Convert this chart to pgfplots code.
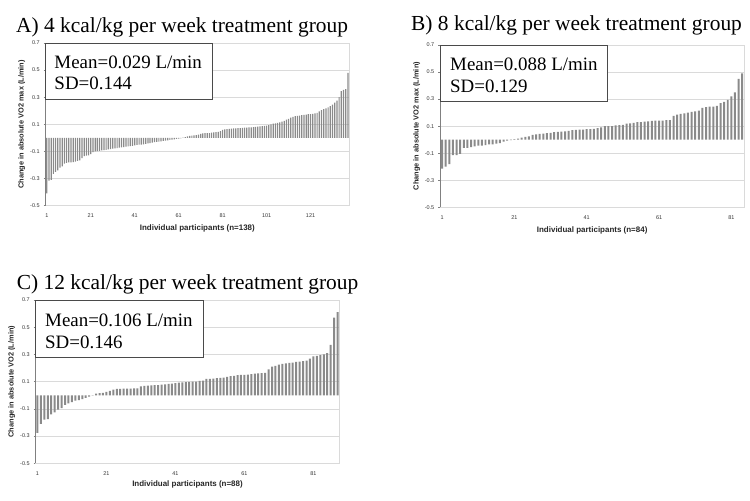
\documentclass[border=0pt]{standalone}
\usepackage{pgfplots}
\pgfplotsset{compat=1.18}
\usepackage{pgfplotstable}
\usepackage{fontspec}
\setmainfont{Liberation Serif}
\newfontfamily\arial{Liberation Sans}
\definecolor{bargray}{HTML}{8A8A8A}
\definecolor{gridgray}{HTML}{DADADA}
\definecolor{boxgray}{HTML}{4A4A4A}

\pgfplotstableread{
x y
1 -0.41
2 -0.315
3 -0.31
4 -0.265
5 -0.25
6 -0.24
7 -0.22
8 -0.21
9 -0.19
10 -0.185
11 -0.18
12 -0.18
13 -0.178
14 -0.175
15 -0.17
16 -0.165
17 -0.15
18 -0.135
19 -0.13
20 -0.128
21 -0.12
22 -0.105
23 -0.1
24 -0.098
25 -0.095
26 -0.092
27 -0.09
28 -0.088
29 -0.085
30 -0.082
31 -0.08
32 -0.078
33 -0.075
34 -0.072
35 -0.07
36 -0.068
37 -0.065
38 -0.062
39 -0.06
40 -0.058
41 -0.055
42 -0.052
43 -0.05
44 -0.05
45 -0.048
46 -0.045
47 -0.04
48 -0.038
49 -0.035
50 -0.032
51 -0.03
52 -0.028
53 -0.025
54 -0.022
55 -0.02
56 -0.018
57 -0.015
58 -0.012
59 -0.01
60 -0.008
61 -0.005
62 -0.003
63 0.002
64 0.005
65 0.012
66 0.015
67 0.017
68 0.018
69 0.02
70 0.025
71 0.03
72 0.033
73 0.035
74 0.035
75 0.036
76 0.038
77 0.04
78 0.042
79 0.044
80 0.05
81 0.06
82 0.063
83 0.065
84 0.066
85 0.068
86 0.07
87 0.071
88 0.072
89 0.072
90 0.074
91 0.075
92 0.076
93 0.077
94 0.078
95 0.08
96 0.082
97 0.084
98 0.085
99 0.086
100 0.088
101 0.09
102 0.095
103 0.1
104 0.105
105 0.108
106 0.11
107 0.115
108 0.12
109 0.125
110 0.135
111 0.14
112 0.15
113 0.155
114 0.16
115 0.162
116 0.165
117 0.168
118 0.17
119 0.172
120 0.175
121 0.176
122 0.178
123 0.18
124 0.185
125 0.195
126 0.205
127 0.212
128 0.218
129 0.225
130 0.235
131 0.245
132 0.26
133 0.275
134 0.3
135 0.345
136 0.355
137 0.36
138 0.48
}\dataA

\pgfplotstableread{
x y
1 -0.215
2 -0.2
3 -0.18
4 -0.115
5 -0.115
6 -0.105
7 -0.06
8 -0.06
9 -0.055
10 -0.05
11 -0.045
12 -0.045
13 -0.04
14 -0.035
15 -0.035
16 -0.03
17 -0.025
18 -0.015
19 -0.008
20 -0.003
21 0.004
22 0.008
23 0.015
24 0.02
25 0.025
26 0.035
27 0.04
28 0.043
29 0.045
30 0.048
31 0.05
32 0.055
33 0.058
34 0.06
35 0.062
36 0.065
37 0.07
38 0.072
39 0.075
40 0.075
41 0.077
42 0.078
43 0.08
44 0.085
45 0.09
46 0.1
47 0.1
48 0.1
49 0.105
50 0.108
51 0.11
52 0.118
53 0.12
54 0.125
55 0.13
56 0.13
57 0.133
58 0.135
59 0.138
60 0.14
61 0.14
62 0.14
63 0.145
64 0.145
65 0.175
66 0.185
67 0.19
68 0.195
69 0.2
70 0.205
71 0.21
72 0.215
73 0.235
74 0.24
75 0.245
76 0.245
77 0.25
78 0.27
79 0.28
80 0.295
81 0.32
82 0.35
83 0.45
84 0.49
}\dataB

\pgfplotstableread{
x y
1 -0.277
2 -0.21
3 -0.18
4 -0.175
5 -0.14
6 -0.125
7 -0.105
8 -0.095
9 -0.07
10 -0.06
11 -0.05
12 -0.04
13 -0.035
14 -0.028
15 -0.02
16 -0.01
17 -0.003
18 0.012
19 0.015
20 0.017
21 0.025
22 0.032
23 0.042
24 0.046
25 0.047
26 0.048
27 0.048
28 0.049
29 0.05
30 0.05
31 0.066
32 0.068
33 0.07
34 0.072
35 0.074
36 0.075
37 0.078
38 0.08
39 0.083
40 0.085
41 0.09
42 0.092
43 0.094
44 0.096
45 0.098
46 0.1
47 0.1
48 0.105
49 0.108
50 0.12
51 0.12
52 0.122
53 0.125
54 0.128
55 0.13
56 0.135
57 0.14
58 0.142
59 0.148
60 0.15
61 0.15
62 0.152
63 0.155
64 0.158
65 0.16
66 0.162
67 0.165
68 0.19
69 0.21
70 0.215
71 0.225
72 0.23
73 0.235
74 0.238
75 0.24
76 0.245
77 0.248
78 0.25
79 0.255
80 0.27
81 0.285
82 0.29
83 0.295
84 0.3
85 0.31
86 0.37
87 0.57
88 0.61
}\dataC

\pgfplotsset{
  waterfall/.style={
    anchor=south west,
    scale only axis,
    ybar,
    ymin=-0.5, ymax=0.7,
    ytick={-0.5,-0.3,-0.1,0.1,0.3,0.5,0.7},
    yticklabels={-0.5,-0.3,-0.1,0.1,0.3,0.5,0.7},
    ytick pos=left,
    xtick pos=bottom,
    ymajorgrids,
    major grid style={draw=gridgray, line width=0.6pt},
    axis line style={draw=gridgray, line width=0.7pt},
    tick align=outside,
    ytick style={draw=gray, line width=0.5pt},
    major tick length=2bp,
    xtick style={draw=none},
    ticklabel style={font=\arial\fontsize{5.5}{6}\selectfont, text=black!80},
    yticklabel style={xshift=-0.5bp},
    xticklabel style={yshift=-2.5bp},
    xlabel style={font=\arial\bfseries\fontsize{8}{9}\selectfont, anchor=center, text=black!85},
    ylabel style={font=\arial\bfseries\fontsize{7.4}{8}\selectfont, anchor=center, text=black!85},
    enlarge x limits=false,
    after end axis/.code={
      \draw[gray, line width=0.7pt] (axis description cs:0,0) -- (axis description cs:0,1);
    },
  }
}

\begin{document}
\begin{tikzpicture}[x=1bp,y=1bp]
\path[use as bounding box] (0,0) rectangle (750,501);

% Panel A
\begin{axis}[waterfall,
  at={(45.7bp,295.3bp)}, width=303.3bp, height=162.7bp,
  xmin=0.5, xmax=138.5,
  xtick={1,21,41,61,81,101,121},
  xticklabels={1,21,41,61,81,101,121},
  bar width=0.55,
  xlabel={Individual participants (n=138)},
  ylabel={Change in absolute VO2 max (L/min)},
  xlabel style={at={(axis description cs:0.5,-0.137)}},
  ylabel style={at={(axis description cs:-0.079,0.5)}},
]
\addplot[fill=bargray, draw=none] table[x=x,y=y] {\dataA};
\end{axis}

% Panel B
\begin{axis}[waterfall,
  at={(440.3bp,293.7bp)}, width=303.7bp, height=162.3bp,
  xmin=0.5, xmax=84.5,
  xtick={1,21,41,61,81},
  xticklabels={1,21,41,61,81},
  bar width=0.55,
  xlabel={Individual participants (n=84)},
  ylabel={Change in absolute VO2 max (L/min)},
  xlabel style={at={(axis description cs:0.5,-0.14)}},
  ylabel style={at={(axis description cs:-0.078,0.5)}},
]
\addplot[fill=bargray, draw=none] table[x=x,y=y] {\dataB};
\end{axis}

% Panel C
\begin{axis}[waterfall,
  at={(35.7bp,37.7bp)}, width=303.6bp, height=163.3bp,
  xmin=0.5, xmax=88.5,
  xtick={1,21,41,61,81},
  xticklabels={1,21,41,61,81},
  bar width=0.58,
  xlabel={Individual participants (n=88)},
  ylabel={Change in absolute VO2 (L/min)},
  xlabel style={at={(axis description cs:0.5,-0.127)}},
  ylabel style={at={(axis description cs:-0.079,0.5)}},
]
\addplot[fill=bargray, draw=none] table[x=x,y=y] {\dataC};
\end{axis}

% Titles
\node[anchor=base west, inner sep=0pt, font=\fontsize{21.5}{24}\selectfont] at (16,468.7) {A) 4 kcal/kg per week treatment group};
\node[anchor=base west, inner sep=0pt, font=\fontsize{21.5}{24}\selectfont] at (411,470.3) {B) 8 kcal/kg per week treatment group};
\node[anchor=base west, inner sep=0pt, font=\fontsize{21.5}{24}\selectfont] at (16.7,211.7) {C) 12 kcal/kg per week treatment group};

% Stat boxes
\draw[boxgray, line width=0.9pt, fill=white] (45.7,401.7) rectangle (212.7,458);
\node[anchor=base west, inner sep=0pt, font=\fontsize{19}{22}\selectfont] at (54.3,432.7) {Mean=0.029 L/min};
\node[anchor=base west, inner sep=0pt, font=\fontsize{19}{22}\selectfont] at (54.3,411.7) {SD=0.144};

\draw[boxgray, line width=0.9pt, fill=white] (440.3,400) rectangle (607.3,456);
\node[anchor=base west, inner sep=0pt, font=\fontsize{19}{22}\selectfont] at (450,430) {Mean=0.088 L/min};
\node[anchor=base west, inner sep=0pt, font=\fontsize{19}{22}\selectfont] at (450,408.3) {SD=0.129};

\draw[boxgray, line width=0.9pt, fill=white] (35.7,143.3) rectangle (203.3,201);
\node[anchor=base west, inner sep=0pt, font=\fontsize{19}{22}\selectfont] at (45,174.3) {Mean=0.106 L/min};
\node[anchor=base west, inner sep=0pt, font=\fontsize{19}{22}\selectfont] at (45,152.7) {SD=0.146};
\end{tikzpicture}
\end{document}
